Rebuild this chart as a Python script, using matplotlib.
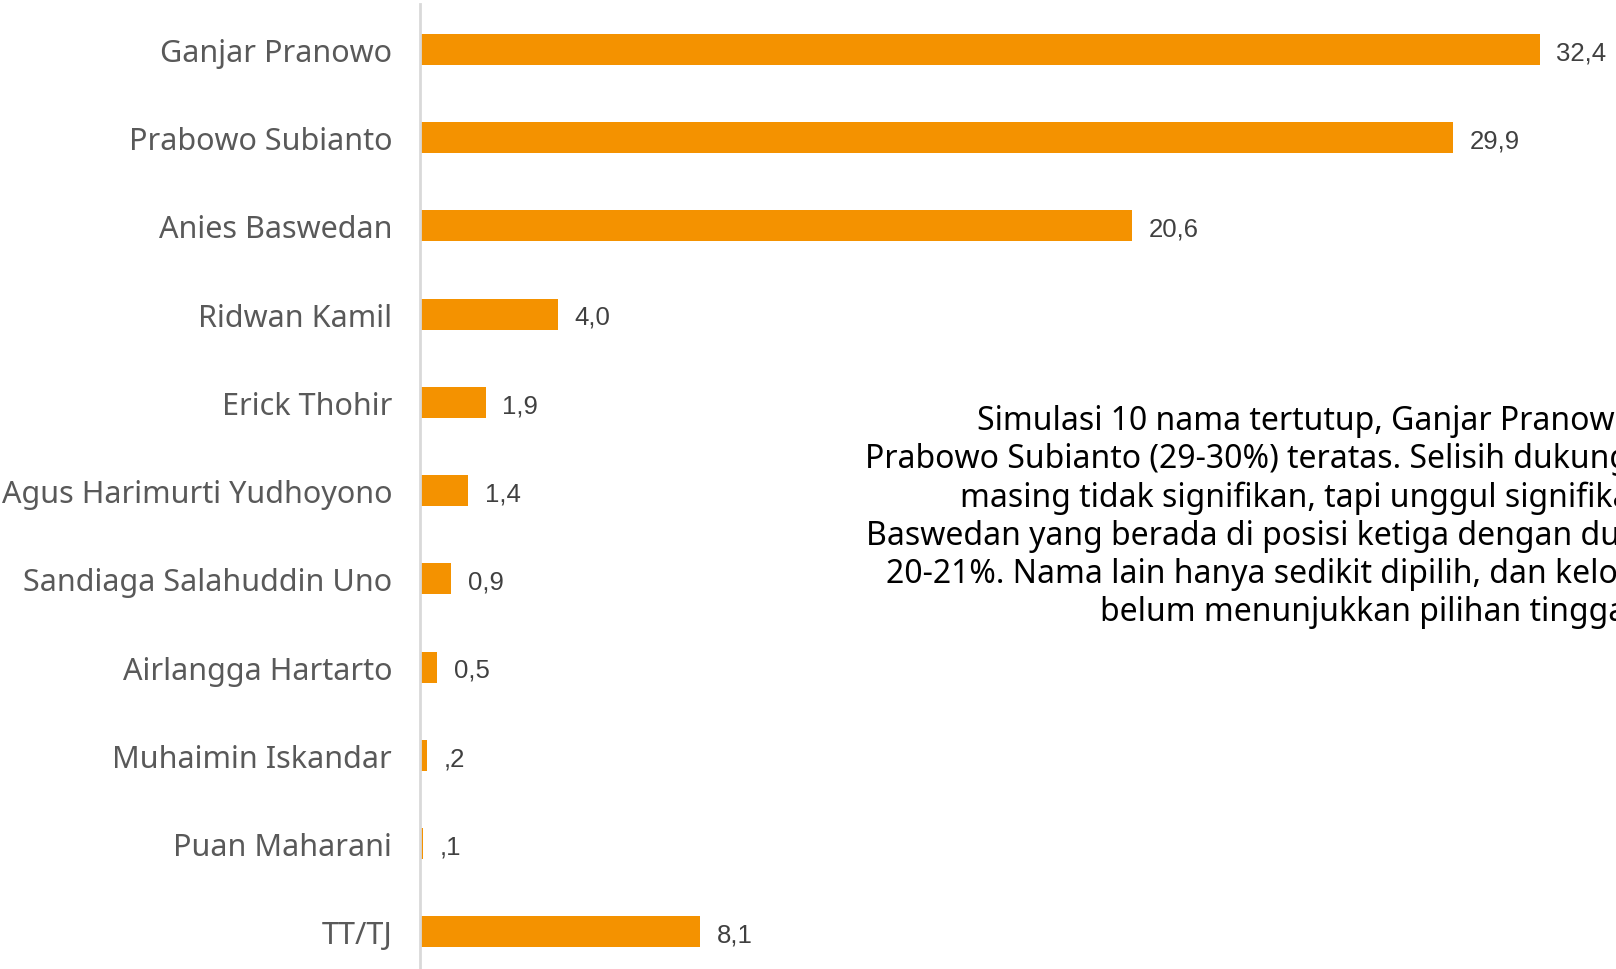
import matplotlib.pyplot as plt

# data
kandidat = ['Ganjar Pranowo', 'Prabowo Subianto', 'Anies Baswedan', 'Ridwan Kamil',
            'Erick Thohir', 'Agus Harimurti Yudhoyono', 'Sandiaga Salahuddin Uno',
            'Airlangga Hartarto', 'Muhaimin Iskandar', 'Puan Maharani', 'TT/TJ']
nilai = [32.4, 29.9, 20.6, 4.0, 1.9, 1.4, 0.9, 0.5, 0.2, 0.1, 8.1]
label_nilai = ['32,4', '29,9', '20,6', '4,0', '1,9', '1,4', '0,9', '0,5', ',2', ',1', '8,1']

catatan = ['Simulasi 10 nama tertutup, Ganjar Pranowo (32-33%) dan',
           'Prabowo Subianto (29-30%) teratas. Selisih dukungan masing-',
           'masing tidak signifikan, tapi unggul signifikan atas Anies',
           'Baswedan yang berada di posisi ketiga dengan dukungan',
           '20-21%. Nama lain hanya sedikit dipilih, dan kelompok yang',
           'belum menunjukkan pilihan tinggal 8%.']
catatan_x = [977, 865, 960, 866, 886, 1100]

W, H = 1616, 970
fig = plt.figure(figsize=(W / 100, H / 100), dpi=100)
ax = fig.add_axes([420 / W, 0, 1 - 420 / W, 1 - 4.5 / H])

pos = list(range(len(kandidat)))
ax.barh(pos, nilai, height=0.35, color='#F49200')
ax.set_ylim(10.42, -0.52)
ax.set_xlim(0, (W - 420) / 34.56)

for p, v, t in zip(pos, nilai, label_nilai):
    ax.text(v + 0.48, p + 0.03, t, va='center', ha='left', fontsize=18.5,
            color='#404040', family='Liberation Sans')

ax.set_yticks(pos)
ax.set_yticklabels(kandidat, fontsize=22, color='#595959', family='Noto Sans')
ax.tick_params(axis='y', length=0, pad=20)
ax.set_xticks([])
for s in ['top', 'right', 'bottom']:
    ax.spines[s].set_visible(False)
ax.spines['left'].set_color('#D9D9D9')
ax.spines['left'].set_linewidth(2)

# keterangan di sisi kanan (terpotong di tepi gambar)
for i, (baris, x) in enumerate(zip(catatan, catatan_x)):
    fig.text(x / W, 1 - (421 + i * 38.4) / H, baris, ha='left', va='center',
             fontsize=23, color='black', family='Noto Sans')

fig.savefig('out.png', dpi=100)
